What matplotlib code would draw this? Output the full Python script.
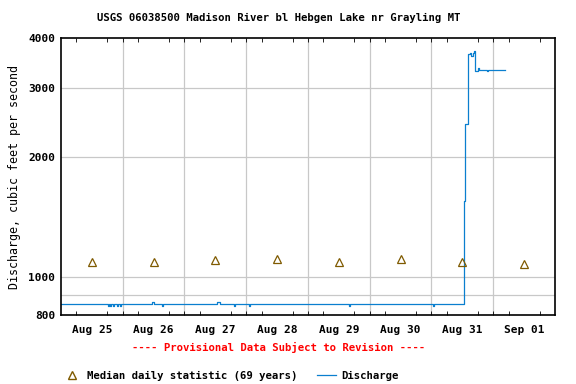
import matplotlib
matplotlib.use("Agg")
import matplotlib.pyplot as plt
from matplotlib.lines import Line2D
import numpy as np

# hours since Aug 25 00:00 and discharge (cfs), drawn as steps
hours = [0, 18.2, 18.5, 19.2, 19.5, 20.4, 20.7, 21.8, 22.1, 23.1, 23.4,
         35.5, 36.0, 39.3, 39.6, 60.8, 61.8, 67.4, 67.7, 73.0, 73.3,
         111.9, 112.2, 144.6, 144.9, 156.6, 157.2, 158.2, 158.9, 159.5,
         160.1, 160.5, 160.8, 162.1, 162.4, 165.6, 165.9, 172.5]
discharge = [853, 845, 853, 845, 853, 845, 853, 845, 853, 845, 853,
             862, 853, 845, 853, 862, 853, 845, 853, 845, 853,
             845, 853, 845, 853, 1555, 2425, 3650, 3664, 3613,
             3664, 3714, 3311, 3357, 3325, 3310, 3325, 3325]

# median daily statistic, at noon of each day
median_days = [0.5, 1.5, 2.5, 3.5, 4.5, 5.5, 6.5, 7.5]
median_vals = [1089, 1090, 1104, 1105, 1091, 1105, 1086, 1078]
day_labels = ["Aug 25", "Aug 26", "Aug 27", "Aug 28", "Aug 29",
              "Aug 30", "Aug 31", "Sep 01"]

plt.rcParams["font.family"] = "DejaVu Sans Mono"
plt.rcParams["font.weight"] = "bold"

blue = "#0A7FCF"
brown = "#7F5A00"
grid = "#C8C8C8"

fig = plt.figure(figsize=(5.76, 3.84), dpi=100)
ax = fig.add_axes([0.1059, 0.1797, 0.8576, 0.7213])

ax.set_yscale("log")
ax.set_ylim(800, 4000)
ax.set_xlim(0, 8)

for d in range(1, 8):
    ax.axvline(d, color=grid, lw=0.9, zorder=0)
for v in [900, 1000, 2000, 3000]:
    ax.axhline(v, color=grid, lw=0.9, zorder=0)

ax.plot(np.array(hours) / 24.0, discharge, drawstyle="steps-post",
        color=blue, lw=0.9)
ax.plot(median_days, median_vals, ls="none", marker="^", ms=6,
        mfc="none", mec=brown, mew=0.9)

ax.set_yticks([800, 1000, 2000, 3000, 4000])
ax.set_yticklabels(["800", "1000", "2000", "3000", "4000"])
ax.yaxis.set_minor_locator(matplotlib.ticker.NullLocator())
ax.tick_params(axis="y", length=0, labelsize=8, pad=4)

ax.set_xticks(median_days)
ax.set_xticklabels(day_labels)
ax.set_xticks(np.arange(0.25, 8, 0.25), minor=True)
ax.tick_params(axis="x", which="major", length=0, labelsize=8, pad=7)
ax.tick_params(axis="x", which="minor", direction="in", length=3,
               top=True, bottom=True)

for s in ax.spines.values():
    s.set_linewidth(1.2)

ax.set_ylabel("Discharge, cubic feet per second", fontsize=8.4, labelpad=5)

fig.text(0.484, 0.953, "USGS 06038500 Madison River bl Hebgen Lake nr Grayling MT",
         ha="center", va="center", fontsize=7.7)
fig.text(0.484, 0.094, "---- Provisional Data Subject to Revision ----",
         ha="center", va="center", fontsize=7.7, color="red")

handles = [Line2D([], [], ls="none", marker="^", ms=6, mfc="none", mec=brown),
           Line2D([], [], color=blue, lw=0.9)]
fig.legend(handles, ["Median daily statistic (69 years)", "Discharge"],
           loc="center", bbox_to_anchor=(0.40, 0.022), ncol=2, frameon=False,
           fontsize=7.7, handlelength=1.8, handletextpad=0.5, columnspacing=1.8)

fig.savefig("out.png", dpi=100)
